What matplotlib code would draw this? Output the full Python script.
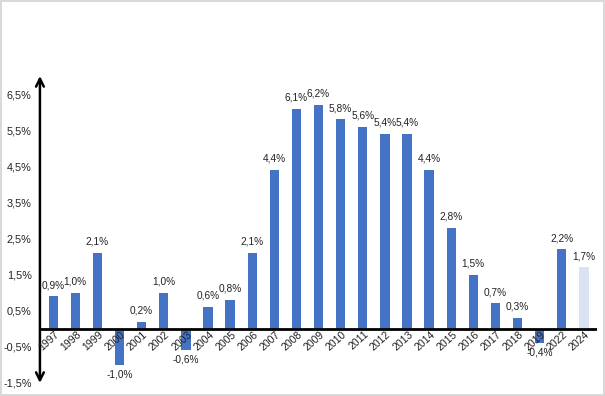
import matplotlib
matplotlib.use("Agg")
import matplotlib.pyplot as plt

# data
years = ["1997", "1998", "1999", "2000", "2001", "2002", "2003", "2004", "2005",
         "2006", "2007", "2008", "2009", "2010", "2011", "2012", "2013", "2014",
         "2015", "2016", "2017", "2018", "2019", "2022", "2024"]
values = [0.9, 1.0, 2.1, -1.0, 0.2, 1.0, -0.6, 0.6, 0.8,
          2.1, 4.4, 6.1, 6.2, 5.8, 5.6, 5.4, 5.4, 4.4,
          2.8, 1.5, 0.7, 0.3, -0.4, 2.2, 1.7]
y_ticks = [-1.5, -0.5, 0.5, 1.5, 2.5, 3.5, 4.5, 5.5, 6.5]

dark = "#4472C4"
light = "#DAE3F3"
colors = [dark] * (len(values) - 1) + [light]

plt.rcParams['font.family'] = ['Liberation Sans', 'DejaVu Sans']
fs = 7.3

fig = plt.figure(figsize=(6.05, 3.96), dpi=100)
fig.patch.set_edgecolor("#D9D9D9")
fig.patch.set_linewidth(1.5)
ax = fig.add_axes([0.066, 0.033, 0.921, 0.775])

x = list(range(len(values)))
ax.bar(x, values, width=0.42, color=colors, zorder=2)

ax.set_xlim(-0.6, 24.6)
ax.set_ylim(-1.5, 7.0)

for s in ax.spines.values():
    s.set_visible(False)

# zero line and double arrow y axis
ax.axhline(0, color="black", lw=2, zorder=3)
ax.annotate("", xy=(-0.6, 7.0), xytext=(-0.6, -1.5),
            arrowprops=dict(arrowstyle="<->", lw=1.8, color="black",
                            shrinkA=0, shrinkB=0, mutation_scale=14),
            annotation_clip=False, zorder=4)

ax.set_yticks(y_ticks)
ax.set_yticklabels([f"{t:.1f}%".replace(".", ",") for t in y_ticks], fontsize=7.8,
                   color="#222222")
ax.tick_params(axis="y", length=0, pad=6)
ax.set_xticks([])

for xi, v, yr in zip(x, values, years):
    lbl = f"{v:.1f}%".replace(".", ",")
    if v >= 0:
        ax.text(xi, v + 0.17, lbl, ha="center", va="bottom", fontsize=fs, color="#222222")
    else:
        ax.text(xi, v - 0.12, lbl, ha="center", va="top", fontsize=fs, color="#222222")
    ax.text(xi + 0.2, -0.12, yr, rotation=42, rotation_mode="anchor",
            ha="right", va="center", fontsize=7.6, color="#222222", zorder=5)

fig.savefig("out.png", dpi=100)
